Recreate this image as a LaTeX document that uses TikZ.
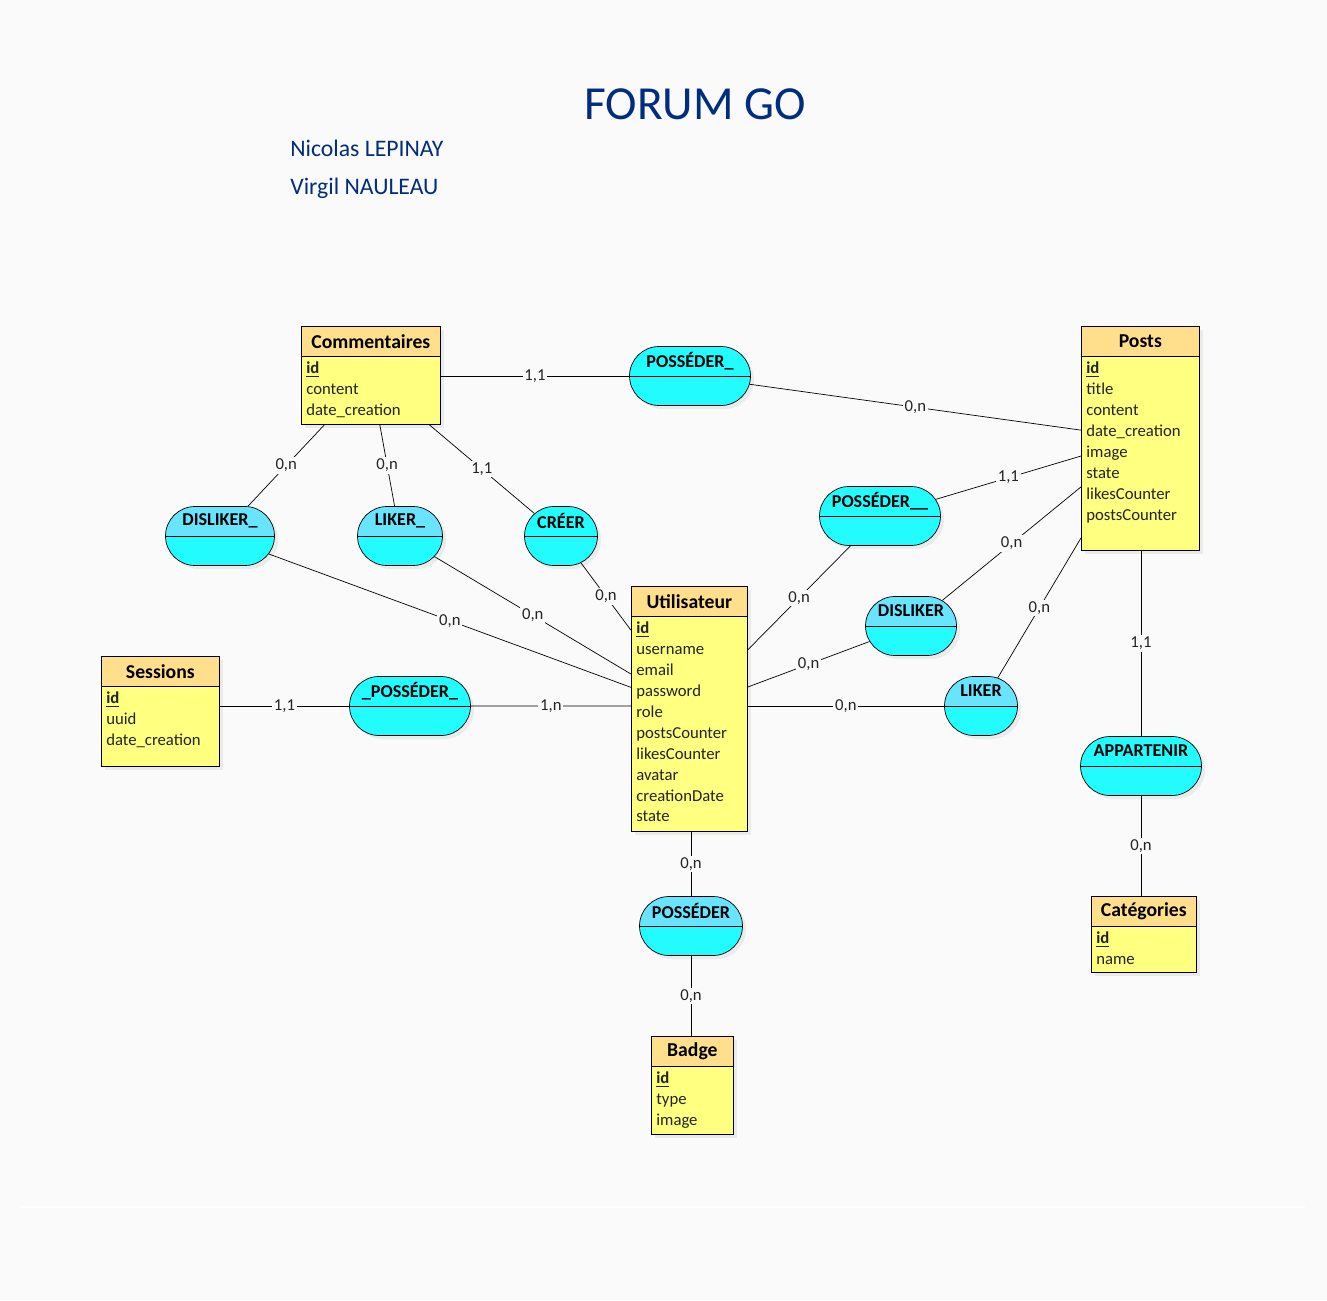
\documentclass[tikz,border=0pt]{standalone}
\usepackage{fontspec}
\setmainfont{Carlito}
\usetikzlibrary{shapes.misc, shadows}

\definecolor{fond}{RGB}{250,250,250}
\definecolor{entete}{RGB}{255,222,140}
\definecolor{corps}{RGB}{255,255,128}
\definecolor{cyanbas}{RGB}{34,252,255}
\definecolor{cyanhaut}{RGB}{104,228,255}
\definecolor{titre}{RGB}{0,45,125}
\definecolor{texte}{RGB}{35,35,35}

\newcommand{\cle}[1]{\underline{\textbf{#1}}}

\begin{document}
\begin{tikzpicture}[x=0.02cm, y=-0.02cm,
    entity/.style={draw, fill=corps, anchor=north west, inner sep=0pt,
      drop shadow={shadow xshift=0.07cm, shadow yshift=-0.07cm, opacity=0.12}},
    enthead/.style={draw, fill=entete, anchor=north, minimum height=0.6cm, inner sep=0pt,
      font=\fontsize{11.2}{13}\selectfont\bfseries},
    attrs/.style={anchor=north west, align=left, inner xsep=0.1cm, inner ysep=0.1cm,
      text=texte, font=\fontsize{9.5}{11.9}\selectfont},
    assoc/.style={rounded rectangle, draw, fill=cyanbas, minimum height=1.18cm, inner sep=0pt,
      drop shadow={shadow xshift=0.07cm, shadow yshift=-0.07cm, opacity=0.12},
      path picture={\fill[#1] (path picture bounding box.north west) rectangle (path picture bounding box.east);
        \draw (path picture bounding box.west) -- (path picture bounding box.east);}},
    assoc/.default=cyanbas,
    aname/.style={yshift=0.3cm, font=\fontsize{10.3}{12}\selectfont\bfseries},
    card/.style={midway, fill=fond, inner sep=1pt, text=texte, font=\fontsize{9.5}{11}\selectfont},
]

% fond
\fill[fond] (0,0) rectangle (1327,1300);
\draw[white, line width=0.8pt] (20,1207) -- (1305,1207);

% titre
\node[text=titre, inner sep=0pt, font=\fontsize{27}{30}\selectfont] (title) at (695,104) {FORUM GO};
\node[text=titre, inner sep=0pt, anchor=base west, font=\fontsize{13.5}{16}\selectfont] (auth1) at (290,157) {Nicolas LEPINAY};
\node[text=titre, inner sep=0pt, anchor=base west, font=\fontsize{13.5}{16}\selectfont] (auth2) at (290,195) {Virgil NAULEAU};

% entites
\node[entity, minimum width=2.78cm, minimum height=1.96cm] (comm) at (301,326) {};
\node[enthead, minimum width=2.78cm] (comm-h) at (comm.north) {Commentaires};
\node[attrs] (comm-a) at (comm-h.south west) {\cle{id}\\content\\date\_creation};

\node[entity, minimum width=2.36cm, minimum height=4.48cm] (posts) at (1081,326) {};
\node[enthead, minimum width=2.36cm] (posts-h) at (posts.north) {Posts};
\node[attrs] (posts-a) at (posts-h.south west) {\cle{id}\\title\\content\\date\_creation\\image\\state\\likesCounter\\postsCounter};

\node[entity, minimum width=2.32cm, minimum height=4.9cm] (util) at (631,586) {};
\node[enthead, minimum width=2.32cm] (util-h) at (util.north) {Utilisateur};
\node[attrs] (util-a) at (util-h.south west) {\cle{id}\\username\\email\\password\\role\\postsCounter\\likesCounter\\avatar\\creationDate\\state};

\node[entity, minimum width=2.36cm, minimum height=2.2cm] (sess) at (101,656) {};
\node[enthead, minimum width=2.36cm] (sess-h) at (sess.north) {Sessions};
\node[attrs] (sess-a) at (sess-h.south west) {\cle{id}\\uuid\\date\_creation};

\node[entity, minimum width=1.64cm, minimum height=1.96cm] (badge) at (651,1036) {};
\node[enthead, minimum width=1.64cm] (badge-h) at (badge.north) {Badge};
\node[attrs] (badge-a) at (badge-h.south west) {\cle{id}\\type\\image};

\node[entity, minimum width=2.1cm, minimum height=1.52cm] (cat) at (1091,896) {};
\node[enthead, minimum width=2.1cm] (cat-h) at (cat.north) {Catégories};
\node[attrs] (cat-a) at (cat-h.south west) {\cle{id}\\name};

% associations
\node[assoc, minimum width=2.42cm, label={[aname]center:POSSÉDER\_}] (possA) at (690,376) {};
\node[assoc, minimum width=2.42cm, label={[aname]center:POSSÉDER\_\_}] (possB) at (880,516) {};
\node[assoc=cyanhaut, minimum width=2.18cm, label={[aname]center:DISLIKER\_}] (dislA) at (220,536) {};
\node[assoc=cyanhaut, minimum width=1.7cm, label={[aname]center:LIKER\_}] (likeA) at (400,536) {};
\node[assoc, minimum width=1.46cm, label={[aname]center:CRÉER}] (creer) at (561,536) {};
\node[assoc=cyanhaut, minimum width=1.82cm, label={[aname]center:DISLIKER}] (dislB) at (911,626) {};
\node[assoc, minimum width=2.42cm, label={[aname]center:\_POSSÉDER\_}] (possS) at (410,706) {};
\node[assoc=cyanhaut, minimum width=1.46cm, label={[aname]center:LIKER}] (likeB) at (981,706) {};
\node[assoc, minimum width=2.42cm, label={[aname]center:APPARTENIR}] (appart) at (1141,766) {};
\node[assoc=cyanhaut, minimum width=2.06cm, label={[aname]center:POSSÉDER}] (possBadge) at (691,926) {};

% liens et cardinalites
\draw (comm.east |- possA) -- (possA) node[card] {1,1};
\draw (possA) -- (posts) node[card] {0,n};
\draw (comm) -- (dislA) node[card] {0,n};
\draw (comm) -- (likeA) node[card] {0,n};
\draw (comm) -- (creer) node[card] {1,1};
\draw (dislA) -- (util) node[card] {0,n};
\draw (likeA) -- (util) node[card] {0,n};
\draw (creer) -- (util) node[card] {0,n};
\draw (possB) -- (util) node[card] {0,n};
\draw (possB) -- (posts) node[card] {1,1};
\draw (dislB) -- (posts) node[card] {0,n};
\draw (dislB) -- (util) node[card] {0,n};
\draw (sess.east |- possS) -- (possS) node[card] {1,1};
\draw (possS) -- (util.west |- possS) node[card] {1,n};
\draw (util.east |- likeB) -- (likeB) node[card] {0,n};
\draw (likeB) -- (posts) node[card] {0,n};
\draw (posts.south -| appart) -- (appart) node[card] {1,1};
\draw (appart) -- (cat.north -| appart) node[card] {0,n};
\draw (util.south -| possBadge) -- (possBadge) node[card] {0,n};
\draw (possBadge) -- (badge.north -| possBadge) node[card] {0,n};

\end{tikzpicture}
\end{document}
